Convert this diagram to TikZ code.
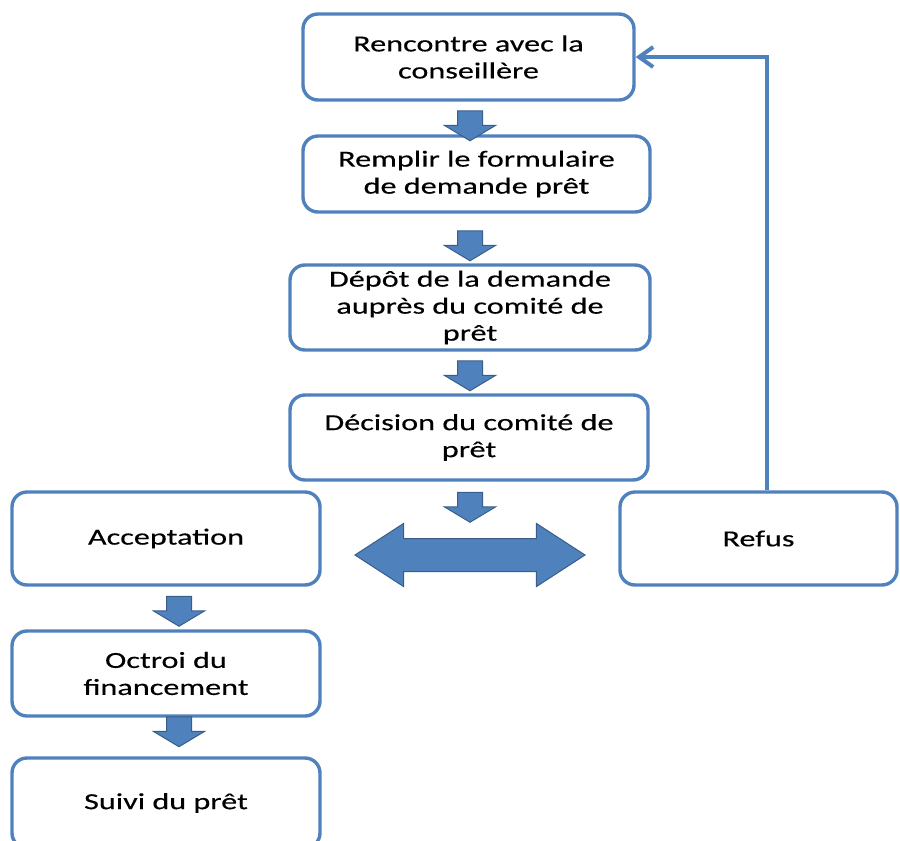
\documentclass[tikz,border=0pt]{standalone}
\usepackage{fontspec}
\setmainfont{Carlito}[FakeStretch=1.4, FakeBold=0.3]
\usetikzlibrary{shapes.arrows, arrows.meta, positioning}
\definecolor{PretBlue}{RGB}{79, 129, 189}
\definecolor{PretDark}{RGB}{56, 93, 138}

\tikzset{
  stepbox/.style={draw=PretBlue, line width=1.7pt, rounded corners=7.5pt, fill=white,
    align=center, font=\fontsize{11.5}{13.5}\selectfont, text=black, inner sep=2pt},
  downblock/.style={single arrow, draw=PretDark, fill=PretBlue, line width=0.5pt,
    shape border rotate=270, inner xsep=6pt, inner ysep=0pt, minimum height=15pt,
    single arrow head extend=6.5pt, single arrow tip angle=118, single arrow head indent=0pt},
  sideblock/.style={double arrow, draw=PretDark, fill=PretBlue, line width=0.5pt,
    inner xsep=0pt, inner ysep=8pt, minimum height=115pt,
    double arrow head extend=7.5pt, double arrow tip angle=66, double arrow head indent=0pt},
  loopline/.style={draw=PretBlue, line width=2.2pt,
    -{Straight Barb[length=7pt, width=10pt, line width=2pt]}},
}

\begin{document}
\begin{tikzpicture}[x=0.5pt,y=-0.5pt]
  \path[use as bounding box] (0,0) rectangle (900,841);
  \clip (0,0) rectangle (900,841);

  % main column
  \node[stepbox, minimum width=165.5pt, minimum height=43pt] (rencontre) at (468.5,57)
    {Rencontre avec la\\conseillère};
  \node[stepbox, minimum width=173.5pt, minimum height=38pt] (remplir) at (476.5,174)
    {Remplir le formulaire\\de demande prêt};
  \node[stepbox, minimum width=180pt, minimum height=42.5pt] (depot) at (470,307.5)
    {Dépôt de la demande\\auprès du comité de\\prêt};
  \node[stepbox, minimum width=179pt, minimum height=42.5pt] (decision) at (469,437.5)
    {Décision du comité de\\prêt};

  % outcomes
  \node[stepbox, minimum width=154pt, minimum height=46.5pt] (acceptation) at (166,538.5)
    {Acceptation};
  \node[stepbox, minimum width=138.5pt, minimum height=46.5pt] (refus) at (758.5,538.5)
    {Refus};
  \node[stepbox, minimum width=154pt, minimum height=42.5pt] (octroi) at (166,673.5)
    {Octroi du\\financement};
  \node[stepbox, minimum width=154pt, minimum height=45pt] (suivi) at (166,803)
    {Suivi du prêt};

  % block arrows
  \node[downblock] (fl1) at (470,122) {};
  \node[downblock] (fl2) at (470,242) {};
  \node[downblock] (fl3) at (470,372) {};
  \node[downblock] (fl4) at (470,503.5) {};
  \node[sideblock] (choix) at (470,555) {};
  \node[downblock] (fl5) at (179,607.5) {};
  \node[downblock] (fl6) at (179,728) {};

  % back to the start after a refusal
  \coordinate (retour) at (767,57);
  \draw[loopline] (refus.north -| retour) -- (retour) -- (rencontre.east);
\end{tikzpicture}
\end{document}
